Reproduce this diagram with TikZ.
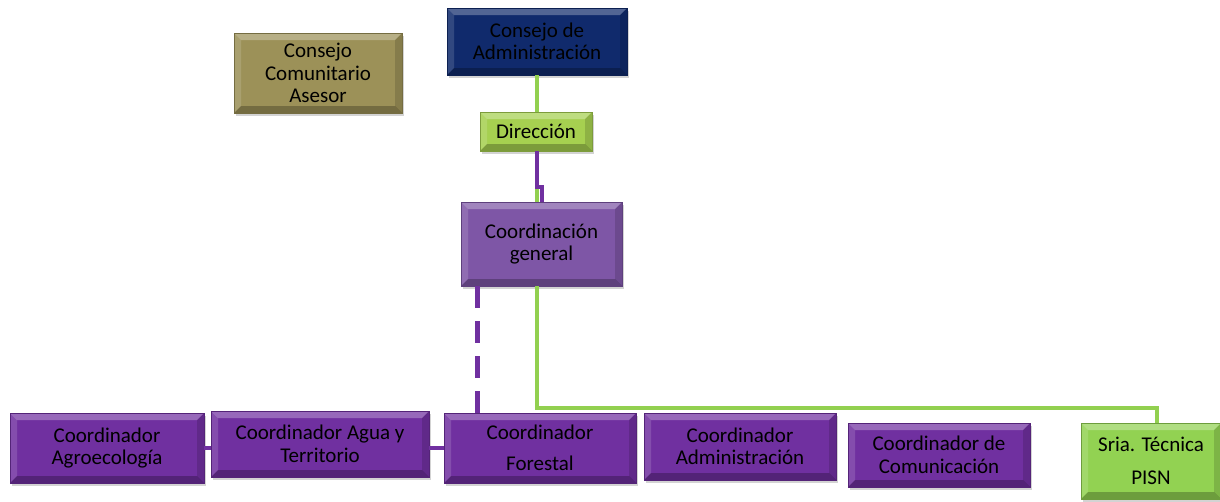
\documentclass[tikz,border=0pt]{standalone}
\usepackage{fontspec}
\setmainfont{Carlito}
\usepackage{tikz}
\usetikzlibrary{positioning, calc, shadows}

\definecolor{olivebox}{RGB}{156,145,88}
\definecolor{navybox}{RGB}{16,42,108}
\definecolor{limebox}{RGB}{166,208,80}
\definecolor{lilacbox}{RGB}{126,86,166}
\definecolor{purplebox}{RGB}{112,48,160}
\definecolor{greenbox}{RGB}{146,210,82}
\definecolor{greenline}{RGB}{146,208,80}

\begin{document}
\begin{tikzpicture}[
        x=1pt, y=-1pt,
        font=\fontsize{21}{22.5}\selectfont,
        box/.style={
            draw=#1!75!black,
            fill=#1,
            align=center,
            inner sep=2pt,
            text=black,
            drop shadow={shadow xshift=2pt, shadow yshift=-3pt, opacity=.35},
            path picture={
                \fill[white, opacity=.28]
                    (path picture bounding box.north west) -- (path picture bounding box.north east)
                    -- ([shift={(-7pt,-7pt)}]path picture bounding box.north east)
                    -- ([shift={(7pt,-7pt)}]path picture bounding box.north west) -- cycle;
                \fill[white, opacity=.14]
                    (path picture bounding box.north west) -- (path picture bounding box.south west)
                    -- ([shift={(7pt,7pt)}]path picture bounding box.south west)
                    -- ([shift={(7pt,-7pt)}]path picture bounding box.north west) -- cycle;
                \fill[black, opacity=.25]
                    (path picture bounding box.south west) -- (path picture bounding box.south east)
                    -- ([shift={(-7pt,7pt)}]path picture bounding box.south east)
                    -- ([shift={(7pt,7pt)}]path picture bounding box.south west) -- cycle;
                \fill[black, opacity=.14]
                    (path picture bounding box.north east) -- (path picture bounding box.south east)
                    -- ([shift={(-7pt,7pt)}]path picture bounding box.south east)
                    -- ([shift={(-7pt,-7pt)}]path picture bounding box.north east) -- cycle;
            }
        },
        coordbox/.style={box=purplebox},
        greenlink/.style={draw=greenline, line width=4pt},
        purplelink/.style={draw=purplebox, line width=4pt},
        dashedlink/.style={draw=purplebox, line width=5pt, dash pattern=on 22pt off 13pt}
    ]
    \useasboundingbox (0,0) rectangle (1220,501);

    \node[box=olivebox, minimum width=168pt, minimum height=80pt] (asesor) at (318,73) {Consejo\\Comunitario\\Asesor};
    \node[box=navybox, minimum width=180pt, minimum height=67pt] (consejo) at (537,41.5) {Consejo de\\Administración};
    \node[box=limebox, minimum width=112pt, minimum height=39pt] (direccion) at (536,131.5) {Dirección};
    \node[box=lilacbox, minimum width=161pt, minimum height=84pt] (coordgen) at (541.5,244) {Coordinación\\general};

    \node[coordbox, minimum width=194pt, minimum height=70pt] (agro) at (107,448) {Coordinador\\Agroecología};
    \node[coordbox, minimum width=218pt, minimum height=66pt] (agua) at (320,444) {Coordinador Agua y\\Territorio};
    \node[coordbox, minimum width=192pt, minimum height=70pt] (forestal) at (540,448) {Coordinador\\[8pt]Forestal};
    \node[coordbox, minimum width=192pt, minimum height=67pt] (admin) at (740,446.5) {Coordinador\\Administración};
    \node[coordbox, minimum width=182pt, minimum height=64pt] (comunic) at (939,455) {Coordinador de\\Comunicación};
    \node[box=greenbox, minimum width=140pt, minimum height=76pt] (sria) at (1151,461) {Sria. Técnica\\[10pt]PISN};

    \coordinate (jog) at (542,187);
    \coordinate (rail) at (537,408);

    \draw[greenlink] (consejo.south -| rail) -- (direccion.north -| rail);
    \draw[greenlink] (rail |- jog) -- (rail |- coordgen.north);
    \draw[purplelink] (direccion.south -| rail) |- (jog) -- (jog |- coordgen.north);
    \draw[dashedlink] ([xshift=-64.5pt]coordgen.south) -- ([xshift=-64.5pt]coordgen.south |- forestal.north);
    \draw[greenlink] (coordgen.south -| rail) -- (rail) -| ([xshift=6pt]sria.north);
    \draw[purplelink] (agro.east) -- (agro.east -| agua.west);
    \draw[purplelink] (forestal.west -| agua.east) -- (forestal.west);

\end{tikzpicture}
\end{document}
